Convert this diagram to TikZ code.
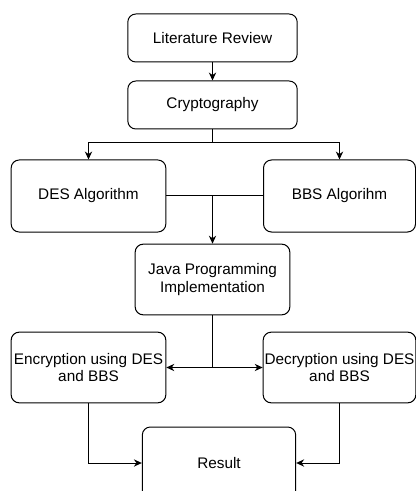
\documentclass[tikz,border=0pt]{standalone}
\usepackage{fontspec}
\setmainfont{Liberation Sans}
\usetikzlibrary{positioning,shapes,arrows.meta}

\begin{document}
\begin{tikzpicture}[x=0.75pt,y=-0.75pt,
		stagebox/.style={draw,line width=0.75pt,rounded corners=6pt,align=center,
			font=\fontsize{11.5}{13}\selectfont,inner sep=1pt},
		flow/.style={line width=0.75pt,-{Stealth[length=6pt,width=5.5pt]}}]

		% Page frame
		\useasboundingbox (0,0) rectangle (416,491);
		\clip (0,0) rectangle (416,491);

		% Top stages
		\node[stagebox,minimum width=127pt,minimum height=36pt] (litrev) at (212.5,38) {Literature Review};
		\node[stagebox,minimum width=127pt,minimum height=36pt] (crypto) at (212.5,105) {Cryptography};

		% Algorithms
		\node[stagebox,minimum width=116pt,minimum height=54pt] (des) at (88.5,196) {DES Algorithm};
		\node[stagebox,minimum width=114pt,minimum height=54pt] (bbs) at (339.5,196) {BBS Algorihm};

		% Implementation
		\node[stagebox,minimum width=116pt,minimum height=53pt] (java) at (212.5,279.5) {Java Programming\\Implementation};

		% Encryption and decryption
		\node[stagebox,minimum width=116pt,minimum height=53pt] (enc) at (88.5,367.5) {Encryption using DES\\and BBS};
		\node[stagebox,minimum width=114pt,minimum height=53pt] (dec) at (339.5,367.5) {Decryption using DES\\and BBS};

		% Result
		\node[stagebox,minimum width=115pt,minimum height=54pt] (result) at (219,463) {Result};

		% Connectors
		\draw[flow] (litrev) -- (crypto);
		\draw[flow] (crypto.south) -- ++(0,13) -| (des.north);
		\draw[flow] (crypto.south) -- ++(0,13) -| (bbs.north);
		\draw[line width=0.75pt] (des.east) -- (bbs.west);
		\coordinate (join) at (des.east -| java.north);
		\draw[flow] (join) -- (java.north);
		\coordinate (split) at (enc.east -| java.south);
		\draw[line width=0.75pt] (java.south) -- (split);
		\draw[flow] (split) -- (enc.east);
		\draw[flow] (split) -- (dec.west);
		\draw[flow] (enc.south) |- (result.west);
		\draw[flow] (dec.south) |- (result.east);

	\end{tikzpicture}
\end{document}
